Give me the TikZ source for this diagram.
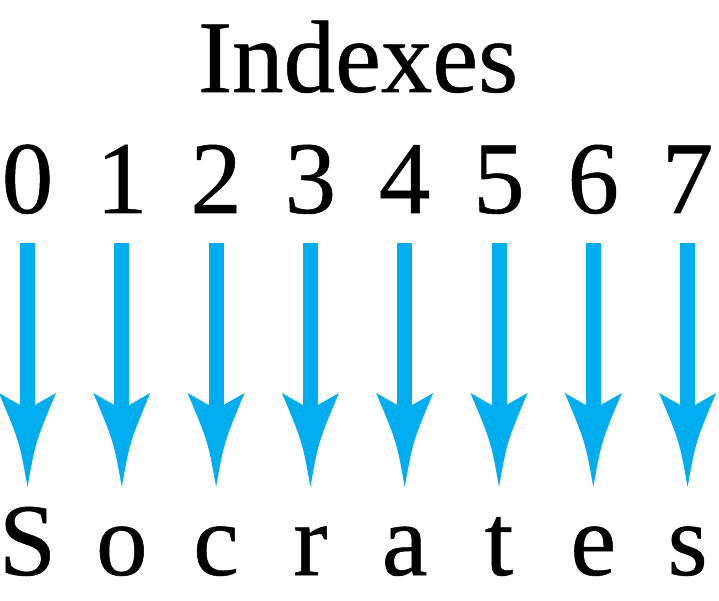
\documentclass[tikz,border=0pt]{standalone}
\usepackage{fontspec}
\setmainfont[FakeBold=0.5]{Liberation Serif}
\usetikzlibrary{arrows.meta}
\definecolor{arrowcyan}{HTML}{00AEEF}
\tikzset{
  lbl/.style={anchor=base, inner sep=0pt, font=\fontsize{103}{120}\selectfont, text=black},
  arr/.style={draw=arrowcyan, line width=15pt, shorten <=30pt, shorten >=160pt},
  headfill/.style={fill=arrowcyan, draw=none}
}
\begin{document}
\begin{tikzpicture}[x=1pt,y=1pt]
\useasboundingbox (0,0) rectangle (719,600);
\node[lbl] (title) at (358,508) {Indexes};
\foreach \d/\c [count=\i from 0] in {0/S,1/o,2/c,3/r,4/a,5/t,6/e,7/s}{
  \pgfmathsetmacro{\xx}{27.5+94.3*\i}
  \node[lbl] (d\i) at (\xx,387) {\d};
  \node[lbl] (l\i) at (\xx,25) {\c};
  \draw[arr] (d\i.base) -- (l\i.base);
  \coordinate (tip\i) at ([yshift=88pt]l\i.base);
  \fill[headfill] (tip\i) .. controls ++(8,45) .. ++(28.5,94)
     -- ++(-21,-12) -- ++(-15,0) -- ++(-21,12)
     .. controls ++(20.5,-49) .. (tip\i) -- cycle;
}
\end{tikzpicture}
\end{document}
